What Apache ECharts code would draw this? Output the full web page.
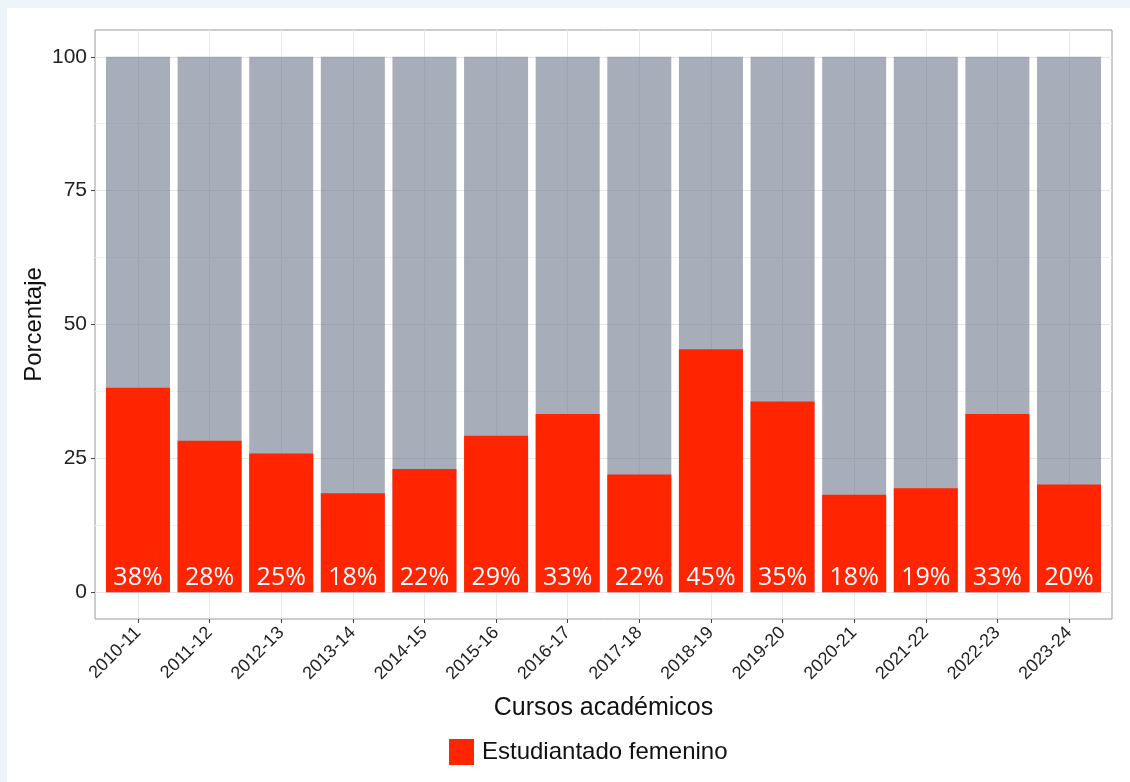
<!DOCTYPE html>
<html><head><meta charset="utf-8">
<script src="https://cdn.jsdelivr.net/npm/echarts@6/dist/echarts.min.js"></script>
<style>
html,body{margin:0;padding:0;background:#eef4f9;width:1130px;height:782px;overflow:hidden;}
#c{position:absolute;left:7px;top:8px;width:1123px;height:774px;background:#ffffff;}
</style></head><body><div id="c"></div>
<script>
const categories = ['2010-11','2011-12','2012-13','2013-14','2014-15','2015-16','2016-17','2017-18','2018-19','2019-20','2020-21','2021-22','2022-23','2023-24'];
const femenino = [38.2, 28.3, 25.9, 18.5, 23.0, 29.2, 33.3, 22.0, 45.4, 35.6, 18.2, 19.4, 33.3, 20.1];
const total = [100, 100, 100, 100, 100, 100, 100, 100, 100, 100, 100, 100, 100, 100];
const etiquetas = ['38%','28%','25%','18%','22%','29%','33%','22%','45%','35%','18%','19%','33%','20%'];
const yTicks = [0, 25, 50, 75, 100];
const yMinorTicks = [12.5, 37.5, 62.5, 87.5];

const idx = categories.map((c, i) => i);
const chart = echarts.init(document.getElementById('c'), null, {renderer: 'canvas'});
const font = '"Liberation Sans", Arial, sans-serif';

chart.setOption({
  animation: false,
  backgroundColor: '#ffffff',
  grid: {left: 88, right: 18, top: 22, bottom: 163, show: true, borderColor: '#9a9a9a', borderWidth: 1, backgroundColor: 'transparent'},
  legend: {
    data: ['Estudiantado femenino'],
    left: 437, top: 726,
    icon: 'rect', itemWidth: 25, itemHeight: 26,
    textStyle: {fontFamily: font, fontSize: 24, color: '#111', padding: [0, 0, 0, 3]},
    selectedMode: false
  },
  xAxis: {
    type: 'value', min: -0.6, max: 13.6,
    name: 'Cursos académicos', nameLocation: 'middle', nameGap: 77,
    nameTextStyle: {fontFamily: font, fontSize: 25, color: '#111'},
    axisLine: {show: false, onZero: false},
    axisTick: {show: true, customValues: idx, length: 4, lineStyle: {color: '#444'}},
    axisLabel: {customValues: idx, rotate: 45, margin: 11, fontFamily: font, fontSize: 18, color: '#222',
      formatter: v => categories[Math.round(v)]},
    splitLine: {show: true, lineStyle: {color: '#e8e8e8', width: 1}}
  },
  yAxis: [{
    type: 'value', min: -5, max: 105,
    name: 'Porcentaje', nameLocation: 'middle', nameGap: 49, nameRotate: 90,
    nameMoveOverlap: false,
    nameTextStyle: {fontFamily: font, fontSize: 24, color: '#111'},
    axisLine: {show: false, onZero: false},
    axisTick: {show: true, customValues: yTicks, length: 4, lineStyle: {color: '#444'}},
    axisLabel: {customValues: yTicks, margin: 8, fontFamily: font, fontSize: 21, color: '#222'},
    splitLine: {show: true, lineStyle: {color: '#e6e6e6', width: 1}}
  }, {
    type: 'value', min: -5, max: 105, position: 'left',
    axisLine: {show: false, onZero: false},
    axisTick: {show: false, customValues: yMinorTicks},
    axisLabel: {show: false, customValues: yMinorTicks},
    splitLine: {show: true, lineStyle: {color: '#f0f0f0', width: 1}}
  }],
  series: [{
    name: 'Resto', type: 'bar', barWidth: 64, barGap: '-100%',
    itemStyle: {color: 'rgba(108,118,138,0.6)'},
    data: total.map((v, i) => [i, v]),
    z: 2
  }, {
    name: 'Estudiantado femenino', type: 'bar', barWidth: 64, barGap: '-100%',
    itemStyle: {color: '#ff2500'},
    data: femenino.map((v, i) => [i, v]),
    label: {show: true, position: 'insideBottom', distance: 2,
      formatter: p => etiquetas[p.dataIndex],
      fontFamily: '"Open Sans", sans-serif', fontSize: 25, color: '#ffffff'},
    z: 3
  }]
});
</script></body></html>
